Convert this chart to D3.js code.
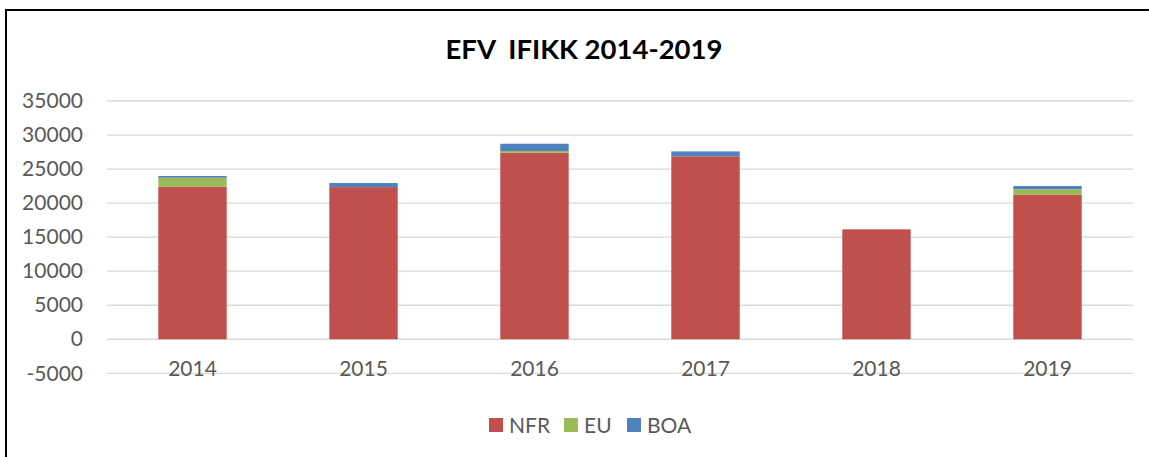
<!DOCTYPE html>
<html><head><meta charset="utf-8">
<script src="https://cdn.jsdelivr.net/npm/d3@7"></script>
<style>html,body{margin:0;padding:0;background:#fff;overflow:hidden}</style>
</head><body>
<svg id="c" width="1149" height="457"></svg>
<script>
const years = ["2014","2015","2016","2017","2018","2019"];
const NFR = [22400, 22350, 27400, 26870, 16150, 21230];
const EU  = [1330, 0, 250, 0, 0, 800];
const BOA = [250, 600, 1070, 730, 0, 480];
const yTicks = [-5000, 0, 5000, 10000, 15000, 20000, 25000, 30000, 35000];
const seriesNames = ["NFR","EU","BOA"];
const colors = ["#C0504D","#9BBB59","#4F81BD"];

const svg = d3.select("#c");
const font = "Lato, 'Open Sans', sans-serif";

svg.append("rect").attr("x",6).attr("y",10).attr("width",1300).attr("height",600)
  .attr("fill","none").attr("stroke","#000").attr("stroke-width",2);

svg.append("text").attr("x",584).attr("y",59).attr("text-anchor","middle")
  .attr("font-family",font).attr("font-weight","bold").attr("font-size",27.5)
  .attr("fill","#000").attr("xml:space","preserve").text("EFV  IFIKK 2014-2019");

const x = d3.scaleBand().domain(years).range([107,1133]).paddingInner(0.6).paddingOuter(0.3);
const y = d3.scaleLinear().domain([-5000,35000]).range([373.3,101]);

// gridlines
svg.append("g").selectAll("line").data(yTicks).join("line")
  .attr("x1",107).attr("x2",1133)
  .attr("y1",d=>y(d)).attr("y2",d=>y(d))
  .attr("stroke","#d9d9d9").attr("stroke-width",1.3);

// y axis labels
const yAxis = d3.axisLeft(y).tickValues(yTicks).tickSize(0).tickPadding(0).tickFormat(d=>String(d));
const ya = svg.append("g").attr("transform","translate(83,0)").call(yAxis);
ya.select(".domain").remove();
ya.selectAll("text").attr("font-family",font).attr("font-size",21).attr("fill","#595959");

// stacked bars
const data = years.map((yr,i)=>({year:yr, NFR:NFR[i], EU:EU[i], BOA:BOA[i]}));
const stack = d3.stack().keys(seriesNames)(data);
svg.append("g").selectAll("g").data(stack).join("g")
  .attr("fill",(d,i)=>colors[i])
  .selectAll("rect").data(d=>d).join("rect")
  .attr("x",d=>x(d.data.year)).attr("width",x.bandwidth())
  .attr("y",d=>y(d[1])).attr("height",d=>Math.max(0,y(d[0])-y(d[1])));

// x axis labels
const xAxis = d3.axisBottom(x).tickSize(0).tickPadding(0);
const xa = svg.append("g").attr("transform",`translate(0,${y(0)})`).call(xAxis);
xa.select(".domain").remove();
xa.selectAll("text").attr("font-family",font).attr("font-size",21).attr("fill","#595959")
  .attr("dy",null).attr("y",37);

// legend
const legX = [489, 564, 627];
const lg = svg.append("g").selectAll("g").data(seriesNames).join("g")
  .attr("transform",(d,i)=>`translate(${legX[i]},418)`);
lg.append("rect").attr("width",14).attr("height",14).attr("fill",(d,i)=>colors[i]);
lg.append("text").attr("x",20).attr("y",14.5).attr("font-family",font).attr("font-size",21)
  .attr("fill","#595959").text(d=>d);
</script>
</body></html>
